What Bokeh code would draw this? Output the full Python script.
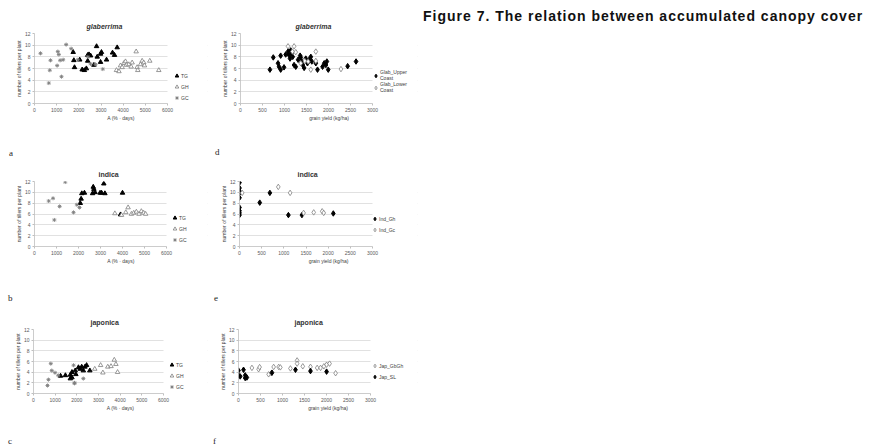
from bokeh.plotting import figure
from bokeh.models import Legend, LegendItem, Div, Range1d, SingleIntervalTicker, BoxAnnotation
from bokeh.layouts import row, column
from bokeh.embed import file_html
from bokeh.resources import INLINE

FONT = "Liberation Sans"
SERIF = "Liberation Serif"

# ---------------- data ----------------
# panel a: glaberrima, A (% days)
a_tg_x = [1745, 1775, 1805, 2150, 2250, 2040, 2400, 2460, 2530, 2340, 2400, 2800, 2830, 2980, 3020, 2980, 3250, 3520, 3610, 3730, 2680]
a_tg_y = [8.8, 7.4, 6.2, 5.8, 5.7, 7.5, 8.3, 8.4, 8.2, 6.0, 7.3, 9.8, 8.0, 8.5, 8.8, 7.1, 7.5, 8.7, 8.3, 9.6, 6.6]
a_gh_x = [3698, 3810, 3879, 3954, 4029, 4104, 4149, 4254, 4360, 4405, 4586, 4630, 4660, 4781, 4856, 4931, 4961, 5201, 5607]
a_gh_y = [5.7, 5.5, 6.5, 6.2, 6.9, 7.2, 6.6, 6.7, 6.3, 7.0, 8.9, 6.2, 5.7, 6.7, 7.3, 7.0, 6.5, 7.3, 5.7]
a_gc_x = [271, 646, 722, 690, 1052, 1097, 1022, 1157, 1218, 1293, 1428, 1654, 1955, 2406, 2527, 2752, 3082]
a_gc_y = [8.6, 3.5, 7.4, 5.7, 8.9, 8.4, 6.5, 7.4, 4.6, 7.5, 10.1, 9.4, 7.5, 8.0, 6.8, 6.7, 5.9]

# panel d: glaberrima, grain yield
d_up_x = [669, 745, 853, 876, 913, 913, 989, 1027, 1080, 1103, 1126, 1141, 1157, 1187, 1218, 1256, 1309, 1355, 1370, 1393,
          1416, 1446, 1484, 1522, 1560, 1598, 1621, 1712, 1750, 1865, 1903, 1941, 1963, 1994, 2435, 2626]
d_up_y = [5.8, 7.9, 6.9, 6.3, 5.8, 8.2, 6.2, 8.4, 8.9, 8.3, 7.7, 9.1, 8.6, 8.0, 6.6, 6.3, 7.5, 8.2, 7.9, 7.2,
          6.6, 6.1, 7.7, 6.9, 7.5, 8.0, 7.2, 6.9, 5.8, 6.3, 6.9, 6.6, 7.2, 5.8, 6.4, 7.2]
d_lo_x = [1080, 1218, 1180, 1256, 1461, 1537, 1598, 1712, 1712, 2283, 1370]
d_lo_y = [9.8, 9.8, 8.9, 8.8, 7.3, 7.2, 5.8, 7.3, 8.9, 5.9, 6.9]

# panel b: indica, A (% days)
b_tg_x = [2080, 2120, 2150, 2270, 2670, 2700, 2640, 2750, 2980, 3050, 3150, 3200, 4000, 3910]
b_tg_y = [8.0, 8.8, 9.8, 9.9, 11.0, 10.6, 9.8, 10.0, 9.9, 9.9, 11.6, 9.8, 9.9, 5.9]
b_gh_x = [3653, 3955, 4149, 4254, 4405, 4510, 4630, 4750, 4856, 4961, 5051]
b_gh_y = [6.1, 5.8, 6.3, 7.2, 6.0, 6.2, 6.4, 6.0, 6.5, 6.2, 6.0]
b_gc_x = [646, 843, 902, 1142, 1398, 1774, 1925, 2045]
b_gc_y = [8.4, 8.9, 4.9, 7.4, 11.9, 6.3, 7.7, 7.2]

# panel e: indica, grain yield
e_gh_x = [0, 0, 0, 0, 0, 0, 0, 0, 0, 457, 685, 1103, 1408, 2116]
e_gh_y = [11.8, 10.8, 10.2, 9.9, 9.0, 7.2, 6.6, 6.2, 5.8, 8.1, 9.9, 5.8, 5.8, 6.1]
e_gc_x = [61, 875, 1142, 1446, 1674, 1865, 1900]
e_gc_y = [9.9, 11.0, 9.9, 6.2, 6.3, 6.5, 6.2]

# panel c: japonica, A (% days)
c_tg_x = [1248, 1473, 1700, 1775, 1925, 2075, 2150, 2225, 2375, 2450, 2300, 2600, 1775, 1700, 1955]
c_tg_y = [3.3, 3.4, 3.5, 4.0, 4.3, 4.9, 4.6, 5.0, 5.0, 5.3, 4.3, 4.3, 3.0, 2.8, 3.6]
c_gh_x = [2828, 3098, 3202, 3428, 3578, 3728, 3803, 3880]
c_gh_y = [4.6, 5.3, 3.9, 5.0, 5.1, 6.3, 5.5, 4.0]
c_gc_x = [690, 798, 843, 992, 1142, 1849, 1894, 2300, 646, 1894]
c_gc_y = [2.6, 5.6, 4.3, 3.9, 3.4, 5.3, 2.0, 2.8, 1.5, 1.9]

# panel f: japonica, grain yield
f_gbgh_x = [305, 457, 480, 685, 745, 799, 913, 951, 1180, 1332, 1332, 1461, 1636, 1788, 1865, 1941, 2002, 2070, 2207]
f_gbgh_y = [4.8, 4.55, 4.95, 3.6, 3.8, 4.98, 4.98, 4.9, 4.7, 6.2, 5.6, 5.1, 5.0, 4.8, 4.8, 5.1, 5.4, 5.6, 3.8]
f_sl_x = [0, 0, 114, 152, 190, 761, 1295, 1636, 2002, 39, 152]
f_sl_y = [4.3, 3.4, 4.45, 3.4, 3.0, 3.9, 4.45, 4.2, 4.1, 3.2, 2.9]

y_label = "number of tillers per plant"
xa_label = "A (% · days)"
xy_label = "grain yield (kg/ha)"
fig_title = "Figure 7. The relation between accumulated canopy cover"
panel_letters = ["a", "d", "b", "e", "c", "f"]

GRAY = "#7f7f7f"


def make_fig(xmax, xstep, axis_px, xlabel, title, italic, title_off, w, h, left, top, bottom):
    frame_w = w - left - 1
    x_end = xmax * frame_w / axis_px   # room to the right of the axis for the legend
    p = figure(width=w, height=h,
               min_border_left=left, min_border_right=1,
               min_border_top=top, min_border_bottom=bottom,
               x_range=Range1d(0, x_end), y_range=Range1d(0, 12),
               output_backend="svg", toolbar_location=None, tools="")
    p.outline_line_color = None
    p.background_fill_color = "white"
    p.border_fill_color = "white"
    p.xgrid.visible = False
    p.ygrid.grid_line_color = "#d9d9d9"
    p.ygrid.grid_line_width = 0.8
    p.xaxis.ticker = SingleIntervalTicker(interval=xstep)
    p.yaxis.ticker = SingleIntervalTicker(interval=2)
    p.xaxis.bounds = (0, xmax)
    for ax in (p.xaxis[0], p.yaxis[0]):
        ax.major_label_text_font = FONT
        ax.major_label_text_font_size = "5px"
        ax.major_label_text_color = "#595959"
        ax.axis_label_text_font = FONT
        ax.axis_label_text_font_size = "5px"
        ax.axis_label_text_font_style = "normal"
        ax.axis_label_text_color = "#404040"
        ax.axis_line_color = "#bfbfbf"
        ax.axis_line_width = 0.8
        ax.major_tick_line_color = "#bfbfbf"
        ax.major_tick_out = 2
        ax.major_tick_in = 0
        ax.minor_tick_line_color = None
        ax.major_label_standoff = 0
        ax.axis_label_standoff = 0
    p.xaxis.axis_label = xlabel
    p.yaxis.axis_label = y_label
    p.title.text = title
    p.title.align = "left"
    p.title.offset = title_off
    p.title.text_font = FONT
    p.title.text_font_size = "7px"
    p.title.text_font_style = "bold italic" if italic else "bold"
    p.title.text_color = "#333333"
    p.title.standoff = 7
    # keep the gridlines inside the plot area (legend area stays blank)
    p.add_layout(BoxAnnotation(left=xmax, fill_color="white", fill_alpha=1.0,
                               line_color=None, level="underlay"))
    return p


def add_legend(p, items, lx, ly, line_h=1.2):
    leg = Legend(items=items, location=(lx, ly), orientation="vertical",
                 glyph_width=9, glyph_height=11, label_height=11, spacing=0,
                 padding=0, margin=0, label_standoff=0,
                 label_text_font=FONT, label_text_font_size="5px",
                 label_text_color="#404040", label_text_line_height=line_h,
                 border_line_color=None, background_fill_alpha=0)
    p.add_layout(leg, "center")


def letter_div(txt, width, height, pad_top, pad_left):
    return Div(text=(f'<div style="padding-top:{pad_top}px;padding-left:{pad_left}px;'
                     f'font-family:\'{SERIF}\',serif;font-size:9px;line-height:10px;color:#222222">{txt}</div>'),
               width=width, height=height, margin=0)


def filled_tri(p, x, y):
    return p.scatter(x, y, marker="triangle", size=4.5, fill_color="black", line_color="black")


def open_tri(p, x, y):
    return p.scatter(x, y, marker="triangle", size=4.5, fill_color="white", line_color=GRAY, line_width=0.8)


def star(p, x, y):
    return p.scatter(x, y, marker="asterisk", size=4, line_color=GRAY, line_width=0.9)


def filled_dia(p, x, y):
    return p.scatter(x, y, marker="diamond", size=5.5, fill_color="black", line_color="black")


def open_dia(p, x, y):
    return p.scatter(x, y, marker="diamond", size=5.5, fill_color="white", line_color=GRAY, line_width=0.8)


# ---- panel a ----
pa = make_fig(6000, 1000, 133, xa_label, "glaberrima", True, 52, 208, 130, 34, 33, 27)
r1 = filled_tri(pa, a_tg_x, a_tg_y)
r2 = open_tri(pa, a_gh_x, a_gh_y)
r3 = star(pa, a_gc_x, a_gc_y)
add_legend(pa, [LegendItem(label="TG", renderers=[r1]), LegendItem(label="GH", renderers=[r2]),
                LegendItem(label="GC", renderers=[r3])], 138, 0)

# ---- panel d ----
pd_ = make_fig(3000, 500, 132, xy_label, "glaberrima", True, 55, 210, 130, 32, 32, 27)
r1 = filled_dia(pd_, d_up_x, d_up_y)
r2 = open_dia(pd_, d_lo_x, d_lo_y)
add_legend(pd_, [LegendItem(label="Glab_Upper\nCoast", renderers=[r1]),
                 LegendItem(label="Glab_Lower\nCoast", renderers=[r2])], 131, 10, 1.3)

# ---- panel b ----
pb = make_fig(6000, 1000, 132, xa_label, "indica", False, 64, 208, 109, 34, 15, 28)
r1 = filled_tri(pb, b_tg_x, b_tg_y)
r2 = open_tri(pb, b_gh_x, b_gh_y)
r3 = star(pb, b_gc_x, b_gc_y)
add_legend(pb, [LegendItem(label="TG", renderers=[r1]), LegendItem(label="GH", renderers=[r2]),
                LegendItem(label="GC", renderers=[r3])], 136, 1)

# ---- panel e ----
pe = make_fig(3000, 500, 133, xy_label, "indica", False, 58, 210, 109, 31, 15, 28)
r1 = filled_dia(pe, e_gh_x, e_gh_y)
r2 = open_dia(pe, e_gc_x, e_gc_y)
add_legend(pe, [LegendItem(label="Ind_Gh", renderers=[r1]), LegendItem(label="Ind_Gc", renderers=[r2])], 131, 11)

# ---- panel c ----
pc = make_fig(6000, 1000, 130, xa_label, "japonica", False, 57, 208, 112, 33, 18, 30)
r1 = filled_tri(pc, c_tg_x, c_tg_y)
r2 = open_tri(pc, c_gh_x, c_gh_y)
r3 = star(pc, c_gc_x, c_gc_y)
add_legend(pc, [LegendItem(label="TG", renderers=[r1]), LegendItem(label="GH", renderers=[r2]),
                LegendItem(label="GC", renderers=[r3])], 134, 1)

# ---- panel f ----
pf = make_fig(3000, 500, 132, xy_label, "japonica", False, 56, 210, 112, 30, 18, 22)
r1 = open_dia(pf, f_gbgh_x, f_gbgh_y)
r2 = filled_dia(pf, f_sl_x, f_sl_y)
add_legend(pf, [LegendItem(label="Jap_GbGh", renderers=[r1]), LegendItem(label="Jap_SL", renderers=[r2])], 132, 11)

title_div = Div(text=fig_title, width=441,
                styles={"font-family": "'Liberation Sans', Arial, sans-serif", "font-weight": "bold",
                        "font-size": "14px", "letter-spacing": "1px", "white-space": "nowrap",
                        "padding-top": "1px", "color": "#111111"})

row_a = row(letter_div(panel_letters[0], 208, 35, 18, 9), letter_div(panel_letters[1], 210, 35, 17, 7))
row_b = row(letter_div(panel_letters[2], 208, 37, 19, 8), letter_div(panel_letters[3], 210, 37, 19, 6))
row_c = row(letter_div(panel_letters[4], 208, 23, 13, 8), letter_div(panel_letters[5], 210, 23, 13, 5))

layout = column(row(pa, pd_, title_div), row_a,
                row(pb, pe), row_b,
                row(pc, pf), row_c)

open("out.html", "w").write(file_html(layout, INLINE))
